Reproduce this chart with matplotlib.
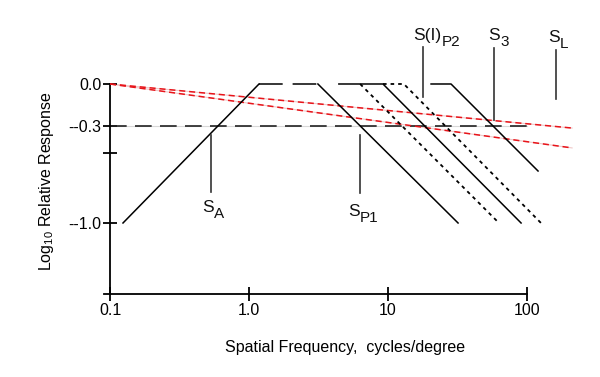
import matplotlib
matplotlib.use("Agg")
import matplotlib.pyplot as plt
from matplotlib.ticker import NullLocator, FixedLocator

plt.rcParams['font.family'] = ['Liberation Sans', 'DejaVu Sans']
plt.rcParams['mathtext.fontset'] = 'custom'
plt.rcParams['mathtext.rm'] = 'Liberation Sans'
plt.rcParams['mathtext.it'] = 'Liberation Sans:italic'

# channel curves: frequency (cycles/degree) and log10 relative response
sa_f = [0.124, 1.18]
sa_r = [-1.0, 0.0]
plateau1_f = [1.18, 3.13]
plateau1_r = [0.0, 0.0]
fall1_f = [3.13, 31.9]
fall1_r = [0.0, -1.0]

solid2_f = [4.43, 9.2, 90.6]
solid2_r = [0.0, 0.0, -1.0]
dotA_f = [6.3, 61.8]
dotA_r = [0.0, -0.993]
dotB_f = [9.2, 13.0, 126.0]
dotB_r = [0.0, 0.0, -1.0]
s3_f = [20.4, 28.4, 120.0]
s3_r = [0.0, 0.0, -0.626]

# red reference lines
red1_f = [0.1, 211.0]
red1_r = [0.0, -0.317]
red2_f = [0.1, 211.0]
red2_r = [0.0, -0.46]

# half-amplitude line
half_f = [0.1, 100.0]
half_r = [-0.3, -0.3]

# marker labels (main part, subscript)
mark_main = ['S', 'S', 'S(I)', 'S', 'S']
mark_sub = ['A', 'P1', 'P2', '3', 'L']
mark_f = [0.533, 6.3, 17.9, 57.9, 162.0]
mark_top = [-0.367, -0.367, 0.266, 0.259, 0.245]
mark_bot = [-0.777, -0.784, -0.094, -0.259, -0.108]
label_f = [0.459, 5.15, 15.1, 52.4, 141.6]
label_y = [-0.835, -0.865, 0.405, 0.405, 0.39]

xticks = [0.1, 1.0, 10.0, 100.0]
xticklabels = ['0.1', '1.0', '10', '100']
yticks = [0.0, -0.3, -0.5, -1.0]
yticklabels = ['0.0', '--0.3', '', '--1.0']

fig = plt.figure(figsize=(6.0, 3.77), dpi=100)
ax = fig.add_axes([100 / 600, 77 / 377, 480 / 600, 260 / 377])
ax.set_xscale('log')
ax.set_xlim(10 ** -1.072, 10 ** 2.381)
ax.set_ylim(-1.554, 0.3165)

lw = 1.1
# light underlays
ax.plot(half_f, half_r, color='#d8d8d8', lw=0.8, zorder=1)
ax.plot(red1_f, red1_r, color='#f0c8c8', lw=0.8, zorder=1)
ax.plot(red2_f, red2_r, color='#f0c8c8', lw=0.8, zorder=1)

ax.plot(half_f, half_r, color='#222222', lw=1.2, dashes=(10, 5), zorder=2)
ax.plot(red1_f, red1_r, color='#e8141a', lw=1.1, dashes=(4, 2.5), zorder=3)
ax.plot(red2_f, red2_r, color='#e8141a', lw=1.1, dashes=(4, 2.5), zorder=3)

ax.plot(sa_f, sa_r, color='black', lw=lw, zorder=4)
ax.plot(plateau1_f, plateau1_r, color='black', lw=lw, dashes=(15.5, 6.5), zorder=4)
ax.plot(fall1_f, fall1_r, color='black', lw=lw, zorder=4)
ax.plot(solid2_f, solid2_r, color='black', lw=lw, zorder=4)
ax.plot(dotA_f, dotA_r, color='black', lw=lw + 0.2, dashes=(2, 2.2), zorder=4)
ax.plot(dotB_f, dotB_r, color='black', lw=lw + 0.2, dashes=(2, 2.2), zorder=4)
ax.plot(s3_f, s3_r, color='black', lw=lw, zorder=4)

for main, sub, f, t, b, lf, ly in zip(mark_main, mark_sub, mark_f, mark_top,
                                       mark_bot, label_f, label_y):
    ax.plot([f, f], [t, b], color='#333333', lw=1.2, zorder=4)
    txt = ax.text(lf, ly, main, ha='left', va='top', fontsize=12.5, color='#111111')
    ax.annotate(sub, xy=(1, 0), xycoords=txt, xytext=(0.3, -4.5),
                textcoords='offset points', ha='left', va='bottom',
                fontsize=11, color='#111111')

# axes
for s in ['top', 'right']:
    ax.spines[s].set_visible(False)
ax.spines['left'].set_position(('data', 0.1))
ax.spines['bottom'].set_position(('data', -1.511))
ax.spines['left'].set_bounds(-1.511, 0.0)
ax.spines['bottom'].set_bounds(10 ** -1.043, 100.0)
ax.spines['left'].set_linewidth(1.3)
ax.spines['bottom'].set_linewidth(1.3)

ax.xaxis.set_major_locator(FixedLocator(xticks))
ax.xaxis.set_minor_locator(NullLocator())
ax.set_xticklabels(xticklabels)
ax.set_yticks(yticks)
ax.set_yticklabels(yticklabels)
ax.tick_params(axis='both', direction='inout', length=9.5, width=1.3,
               labelsize=11.5, pad=1.5, color='black')

ax.set_xlabel('Spatial Frequency,  cycles/degree', fontsize=11.5)
ax.xaxis.set_label_coords((345 - 100) / 480, (300 - 340) / 260)
ax.set_ylabel(r'Log$_{10}$ Relative Response', fontsize=11.5)
ax.yaxis.set_label_coords((56 - 100) / 480, (300 - 181) / 260)

fig.savefig('out.png', dpi=100)
